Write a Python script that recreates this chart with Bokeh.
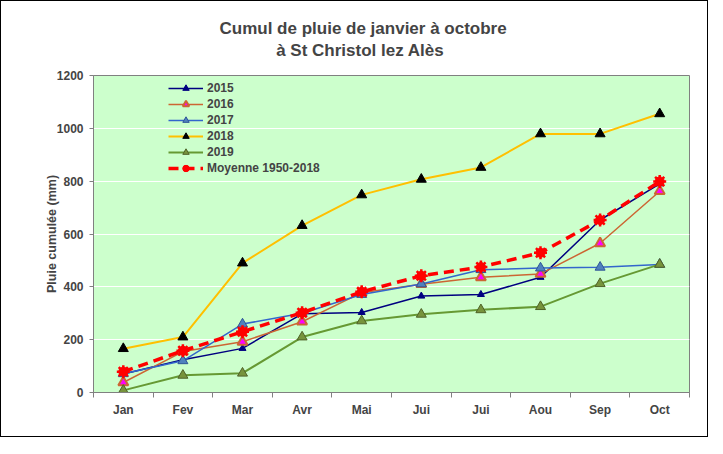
from bokeh.plotting import figure
from bokeh.models import FixedTicker, Legend, LegendItem, Range1d
from bokeh.embed import file_html
from bokeh.resources import INLINE

months = ["Jan", "Fev", "Mar", "Avr", "Mai", "Jui", "Jui", "Aou", "Sep", "Oct"]
y2015 = [70, 124, 167, 298, 303, 365, 371, 436, 653, 790]
y2016 = [38, 155, 192, 268, 378, 410, 436, 449, 565, 762]
y2017 = [71, 120, 259, 300, 371, 411, 465, 471, 474, 485]
y2018 = [166, 210, 490, 632, 748, 807, 852, 979, 979, 1055]
y2019 = [8, 65, 73, 210, 271, 296, 313, 325, 412, 485]
moyenne = [79, 158, 230, 302, 381, 442, 475, 529, 653, 799]
y_ticks = [0, 200, 400, 600, 800, 1000, 1200]
title_lines = ["Cumul de pluie de janvier à octobre", "à St Christol lez Alès"]

xs = [i + 0.5 for i in range(len(months))]
FONT = "Liberation Sans"

p = figure(width=708, height=437, output_backend="svg", toolbar_location=None,
           x_range=Range1d(0, len(months)), y_range=Range1d(0, 1200),
           min_border_left=92, min_border_right=20, min_border_top=73, min_border_bottom=46,
           background_fill_color="#CCFFCC", border_fill_color="white",
           outline_line_color="#808080", outline_line_width=1)
p.styles = {"border": "1px solid black"}

# two-line title; second line indented with non-breaking spaces so both lines look centred
p.title.text = title_lines[0] + "\n" + "\u00a0" * 12 + title_lines[1]
p.title.align = "left"
p.title.offset = 126
p.title.text_font = FONT
p.title.text_font_size = "17px"
p.title.text_font_style = "bold"
p.title.text_line_height = 1.2
p.title.standoff = 30

p.xgrid.visible = False
p.ygrid.ticker = FixedTicker(ticks=y_ticks)
p.ygrid.grid_line_color = "white"
p.ygrid.grid_line_width = 1

xa = p.xaxis[0]
xa.ticker = FixedTicker(ticks=xs, minor_ticks=list(range(len(months) + 1)))
xa.major_label_overrides = {x: m for x, m in zip(xs, months)}
xa.major_tick_line_color = None
xa.minor_tick_line_color = "#808080"
xa.minor_tick_in = 0
xa.minor_tick_out = 5
xa.axis_line_color = "#808080"
xa.major_label_text_font = FONT
xa.major_label_text_font_style = "bold"
xa.major_label_text_font_size = "12px"
xa.major_label_standoff = 4

ya = p.yaxis[0]
ya.ticker = FixedTicker(ticks=y_ticks)
ya.major_tick_line_color = "#808080"
ya.major_tick_in = 0
ya.major_tick_out = 4
ya.minor_tick_line_color = None
ya.axis_line_color = "#808080"
ya.major_label_text_font = FONT
ya.major_label_text_font_style = "bold"
ya.major_label_text_font_size = "12px"
ya.major_label_standoff = 6
ya.axis_label = "Pluie cumulée (mm)"
ya.axis_label_text_font = FONT
ya.axis_label_text_font_style = "bold"
ya.axis_label_text_font_size = "12.5px"
ya.axis_label_standoff = -5

items = []

l = p.line(xs, y2015, line_color="#000080", line_width=1.5)
m = p.scatter(xs, y2015, marker="triangle", size=7, fill_color="#000080", line_color="#000080")
items.append(LegendItem(label="2015", renderers=[l, m]))

l = p.line(xs, y2016, line_color="#CC6633", line_width=1.5)
m = p.scatter(xs, y2016, marker="triangle", size=10, fill_color="#FF00FF", line_color="#CC6633", line_width=2)
items.append(LegendItem(label="2016", renderers=[l, m]))

l = p.line(xs, y2017, line_color="#3366CC", line_width=1.5)
m = p.scatter(xs, y2017, marker="triangle", size=10, fill_color="#4F81BD", line_color="#2F5597", line_width=1)
items.append(LegendItem(label="2017", renderers=[l, m]))

l = p.line(xs, y2018, line_color="#FFC000", line_width=2)
m = p.scatter(xs, y2018, marker="triangle", size=10, fill_color="black", line_color="black")
items.append(LegendItem(label="2018", renderers=[l, m]))

l = p.line(xs, y2019, line_color="#669933", line_width=2)
m = p.scatter(xs, y2019, marker="triangle", size=10, fill_color="#77933C", line_color="#4F6228", line_width=1)
items.append(LegendItem(label="2019", renderers=[l, m]))

l = p.line(xs, moyenne, line_color="#FF0000", line_width=3.5, line_dash="10 6")
m = p.scatter(xs, moyenne, marker="circle", size=9, fill_color="#FF0000", line_color="#FF0000")
m2 = p.scatter(xs, moyenne, marker="asterisk", size=13, line_color="#FF0000", line_width=2.5)
items.append(LegendItem(label="Moyenne 1950-2018", renderers=[l, m, m2]))

legend = Legend(items=items, location=(75, 216), padding=0, margin=0, spacing=0,
                label_height=16, glyph_height=16, glyph_width=35, label_standoff=4,
                background_fill_alpha=0, border_line_color=None,
                label_text_font=FONT, label_text_font_style="bold", label_text_font_size="12px")
p.add_layout(legend, "center")

open("out.html", "w").write(file_html(p, INLINE))
